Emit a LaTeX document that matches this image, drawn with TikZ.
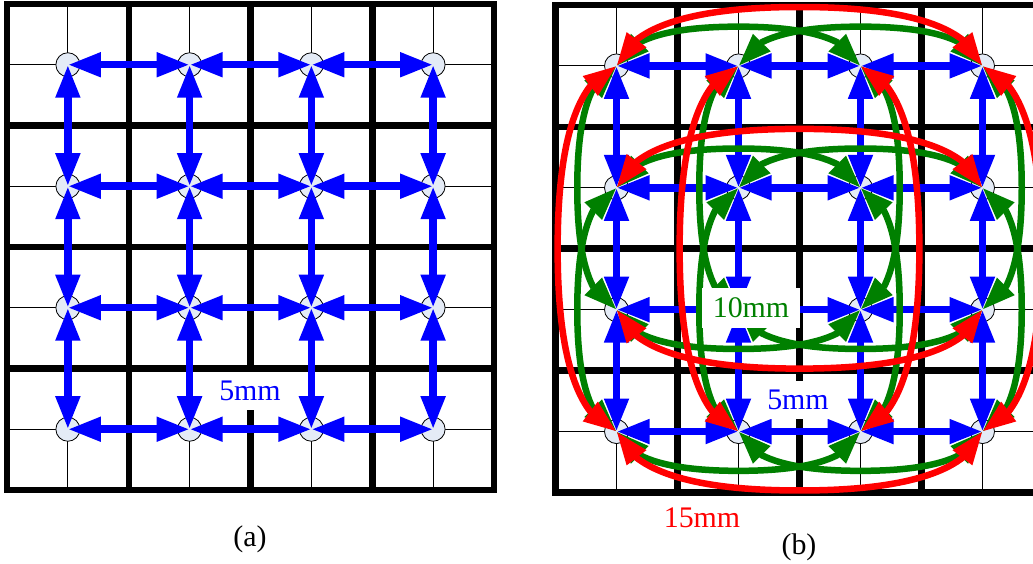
\documentclass[tikz,border=0pt]{standalone}
\usepackage{fontspec}
\setmainfont{Liberation Serif}
\usetikzlibrary{arrows.meta,bending,calc}
\definecolor{myblue}{RGB}{0,0,255}
\definecolor{mygreen}{RGB}{0,128,0}
\definecolor{myred}{RGB}{255,0,0}
\definecolor{nodefill}{RGB}{228,235,246}
\newcommand\bendarc[3]{%
  \draw[#1] (#2.center)
    to[out=52.15,in=162.15,relative,out looseness=0.681,in looseness=1.07]
    ($(#2.center)!0.5!(#3.center)!0.322!90:(#3.center)$)
    to[out=17.85,in=127.85,relative,out looseness=1.07,in looseness=0.681]
    (#3.center);}
\begin{document}
\begin{tikzpicture}[x=1bp,y=1bp,
  gridthin/.style={draw=black,line width=1bp},
  gridthick/.style={draw=black,line width=6.5bp,line cap=rect},
  dot/.style={circle,draw=black,line width=0.8bp,fill=nodefill,minimum size=24bp,inner sep=0pt},
  bluearrow/.style={draw=myblue,line width=7.5bp,>={Triangle[length=33bp,width=23bp]},<->},
  greenarc/.style={draw=mygreen,line width=6.5bp,>={Triangle[length=33bp,width=23bp,flex]},<->},
  redarc/.style={draw=myred,line width=6.5bp,>={Triangle[length=33bp,width=23bp,flex]},<->},
  lbl/.style={font=\fontsize{30}{36}\selectfont,inner sep=0pt},
  boxed/.style={fill=white,inner xsep=8bp,inner ysep=9bp}]
\useasboundingbox (0,0) rectangle (1033,564);
\clip (0,0) rectangle (1033,564);
% ---------- panel (a) grid ----------
\foreach \i in {0,...,3} {
  \draw[gridthin] ({67.875+121.75*\i},74) -- ({67.875+121.75*\i},560);
  \draw[gridthin] (7,{499.25-121.5*\i}) -- (494,{499.25-121.5*\i});
}
\foreach \k in {0,...,4} {
  \draw[gridthick] ({7+121.75*\k},74) -- ({7+121.75*\k},560);
  \draw[gridthick] (7,{560-121.5*\k}) -- (494,{560-121.5*\k});
}
% ---------- panel (b) grid ----------
\foreach \i in {0,...,3} {
  \draw[gridthin] ({616.5+122*\i},71.5) -- ({616.5+122*\i},559);
  \draw[gridthin] (555.5,{498.06-121.875*\i}) -- (1043.5,{498.06-121.875*\i});
}
\foreach \k in {0,...,4} {
  \draw[gridthick] ({555.5+122*\k},71.5) -- ({555.5+122*\k},559);
  \draw[gridthick] (555.5,{559-121.875*\k}) -- (1043.5,{559-121.875*\k});
}
% ---------- nodes ----------
\foreach \i in {0,...,3} \foreach \j in {0,...,3} {
  \node[dot] (a\i\j) at ({67.875+121.75*\i},{499.25-121.5*\j}) {};
  \node[dot] (b\i\j) at ({616.5+122*\i},{498.06-121.875*\j}) {};
}
% ---------- 5mm links ----------
\foreach \i/\k in {0/1,1/2,2/3} \foreach \j in {0,...,3} {
  \draw[bluearrow] (a\i\j.center) -- (a\k\j.center);
  \draw[bluearrow] (a\j\i.center) -- (a\j\k.center);
  \draw[bluearrow] (b\i\j.center) -- (b\k\j.center);
  \draw[bluearrow] (b\j\i.center) -- (b\j\k.center);
}
% ---------- 10mm links ----------
\foreach \j in {0,1} {\bendarc{greenarc}{b0\j}{b2\j}\bendarc{greenarc}{b1\j}{b3\j}}
\foreach \j in {2,3} {\bendarc{greenarc}{b2\j}{b0\j}\bendarc{greenarc}{b3\j}{b1\j}}
\foreach \i in {0,1} {\bendarc{greenarc}{b\i2}{b\i0}\bendarc{greenarc}{b\i3}{b\i1}}
\foreach \i in {2,3} {\bendarc{greenarc}{b\i0}{b\i2}\bendarc{greenarc}{b\i1}{b\i3}}
% ---------- 15mm links ----------
\foreach \j in {0,1} {\bendarc{redarc}{b0\j}{b3\j}}
\foreach \j in {2,3} {\bendarc{redarc}{b3\j}{b0\j}}
\foreach \i in {0,1} {\bendarc{redarc}{b\i3}{b\i0}}
\foreach \i in {2,3} {\bendarc{redarc}{b\i0}{b\i3}}
% ---------- labels ----------
\node[lbl,boxed,text=myblue] (la) at (250,173) {5mm};
\node[lbl,boxed,text=myblue] (lb) at (798,164) {5mm};
\node[lbl,fill=white,inner xsep=11bp,inner ysep=10bp,text=mygreen] (lten) at (751,256) {10mm};
\node[lbl,text=myred] (lfif) at (702,46) {15mm};
\node[lbl] (capa) at (250,25) {(a)};
\node[lbl] (capb) at (799,17) {(b)};
\end{tikzpicture}
\end{document}
